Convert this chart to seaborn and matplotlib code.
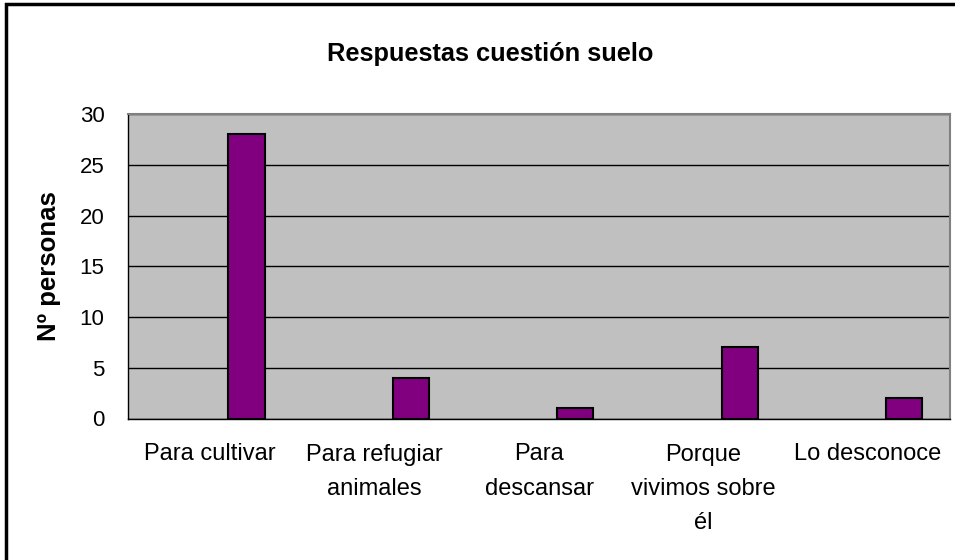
import numpy as np
import matplotlib.pyplot as plt
import matplotlib.patches as mpatches
import pandas as pd
import seaborn as sns

# categorias y valores de la encuesta
categorias = ['Para cultivar', 'Para refugiar\nanimales', 'Para\ndescansar',
              'Porque\nvivimos sobre\nél', 'Lo desconoce']
personas = [28, 4, 1, 7, 2]
# Excel dejó dos series vacías delante, por eso la barra va desplazada
series = ['s1', 's2', 's3']

df = pd.DataFrame({'categoria': categorias, 'personas': personas, 'serie': 's3'})

sns.set_style('white')
plt.rcParams['font.family'] = ['Liberation Sans', 'DejaVu Sans']
plt.rcParams['text.color'] = 'black'
plt.rcParams['axes.labelcolor'] = 'black'
plt.rcParams['xtick.color'] = 'black'
plt.rcParams['ytick.color'] = 'black'

fig = plt.figure(figsize=(9.55, 5.6), dpi=100)
ax = fig.add_axes([128 / 955, 1 - 418.5 / 560, 822 / 955, 304.5 / 560])

sns.barplot(data=df, x='categoria', y='personas', hue='serie', hue_order=series,
            palette=['#800080'] * 3, saturation=1, width=0.663, dodge=True,
            edgecolor='black', linewidth=1.5, legend=False, ax=ax)

ax.set_facecolor('#c0c0c0')
ax.set_ylim(0, 30)
ax.set_xlim(-0.5, len(categorias) - 0.5)
ax.set_yticks(range(0, 31, 5))
ax.yaxis.grid(True, color='black', linewidth=1)
ax.set_axisbelow(True)

for s in ['top', 'right']:
    ax.spines[s].set_color('#808080')
    ax.spines[s].set_linewidth(1.5)
for s in ['left', 'bottom']:
    ax.spines[s].set_color('black')
    ax.spines[s].set_linewidth(1)

# marcas del eje x entre categorías
ax.set_xticks(np.arange(len(categorias)))
ax.set_xticklabels(categorias, fontsize=17, linespacing=1.72)
ax.tick_params(axis='x', length=0, pad=18)
ax.set_xticks(np.arange(-0.5, len(categorias)), minor=True)
ax.tick_params(axis='x', which='minor', length=7, width=1, color='black', direction='out')
ax.tick_params(axis='y', length=7, width=1, color='black', direction='out', labelsize=16, pad=10)

ax.set_xlabel('')
ax.set_ylabel('Nº personas', fontsize=18.5, fontweight='bold', labelpad=13)
fig.text(490 / 955, 1 - 54 / 560, 'Respuestas cuestión suelo', fontsize=18.3,
         fontweight='bold', ha='center', va='center')

# marco del gráfico (recortado a la derecha y abajo)
fig.patches.append(mpatches.Rectangle((6 / 955, -0.05), 1.2, 1 - 4 / 560 + 0.05,
                                      transform=fig.transFigure, fill=False,
                                      edgecolor='black', linewidth=2.5))

fig.savefig('out.png', dpi=100)
